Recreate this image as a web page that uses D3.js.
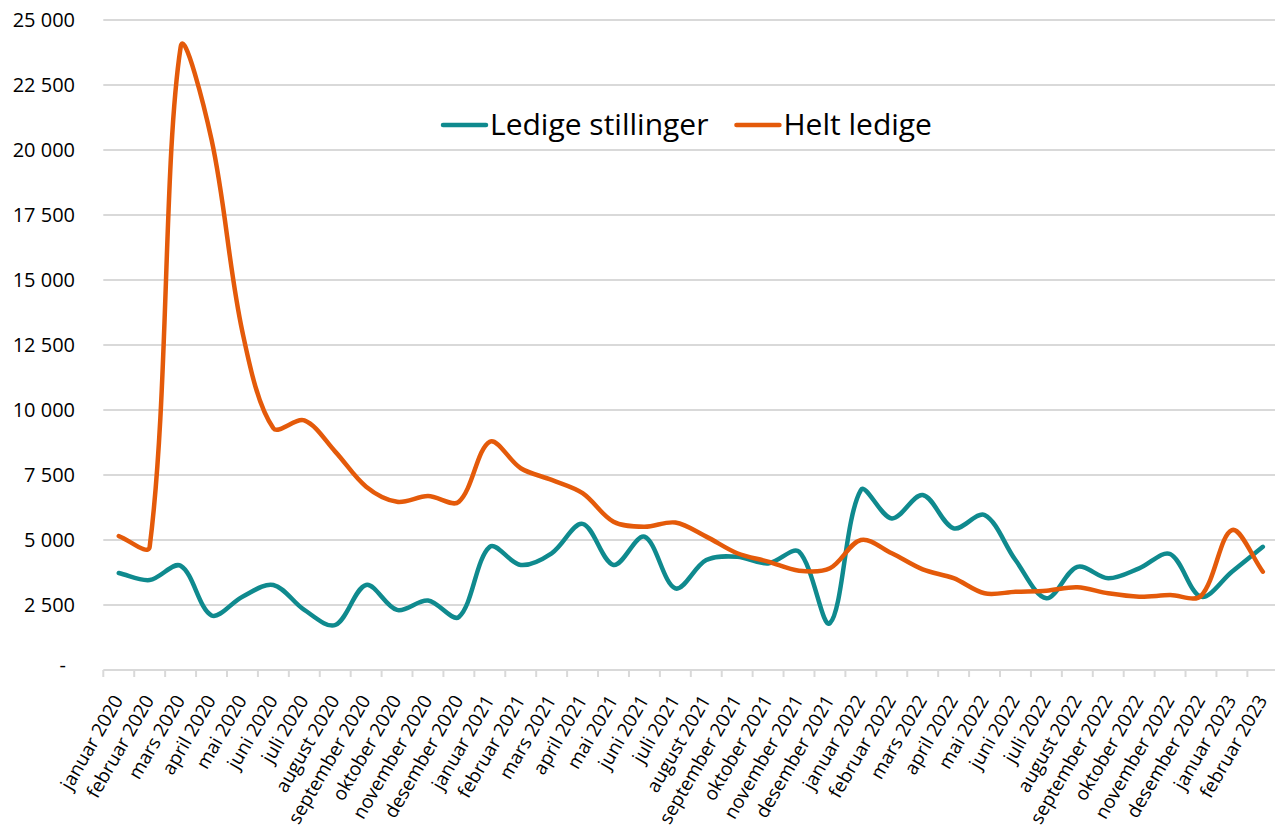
<!DOCTYPE html>
<meta charset="utf-8">
<style>
body { margin: 0; background: #fff; }
text { font-family: "Open Sans", Lato, sans-serif; fill: #000; }
.grid line { stroke: #d9d9d9; stroke-width: 2px; }
.line { fill: none; stroke-width: 4.5px; stroke-linecap: round; stroke-linejoin: round; }
</style>
<svg width="1275" height="832"></svg>
<script src="https://d3js.org/d3.v7.min.js"></script>
<script>

var months = ["januar 2020", "februar 2020", "mars 2020", "april 2020", "mai 2020", "juni 2020",
  "juli 2020", "august 2020", "september 2020", "oktober 2020", "november 2020", "desember 2020",
  "januar 2021", "februar 2021", "mars 2021", "april 2021", "mai 2021", "juni 2021",
  "juli 2021", "august 2021", "september 2021", "oktober 2021", "november 2021", "desember 2021",
  "januar 2022", "februar 2022", "mars 2022", "april 2022", "mai 2022", "juni 2022",
  "juli 2022", "august 2022", "september 2022", "oktober 2022", "november 2022", "desember 2022",
  "januar 2023", "februar 2023"];

var ledigeStillinger = [3730, 3460, 4010, 2100, 2820, 3270, 2310, 1730, 3270, 2310, 2670, 2040,
  4740, 4040, 4490, 5620, 4040, 5130, 3140, 4230, 4360, 4100, 4550, 1800,
  6920, 5830, 6730, 5450, 5960, 4230, 2760, 3970, 3530, 3910, 4460, 2820,
  3780, 4740];

var heltLedige = [5150, 4740, 23950, 20400, 13000, 9300, 9600, 8400, 7050, 6470, 6690, 6470,
  8780, 7760, 7310, 6800, 5700, 5510, 5670, 5130, 4490, 4170, 3820, 3910,
  5000, 4490, 3870, 3530, 2950, 3010, 3050, 3180, 2950, 2820, 2880, 2850,
  5380, 3780];

var yTicks = [0, 2500, 5000, 7500, 10000, 12500, 15000, 17500, 20000, 22500, 25000];

var series = [
  { name: "Ledige stillinger", values: ledigeStillinger, color: "#0f8a8e" },
  { name: "Helt ledige", values: heltLedige, color: "#e45a0a" }
];

var svg = d3.select("svg"),
    plotLeft = 103.3,
    plotRight = 1278.3,
    plotTop = 20,
    plotBottom = 670;

var x = d3.scaleBand()
    .domain(months)
    .range([plotLeft, plotRight])
    .padding(0);

var y = d3.scaleLinear()
    .domain([0, 25000])
    .range([plotBottom, plotTop]);

function fmt(v) {
  if (v === 0) return "-";
  return d3.format(",")(v).replace(/,/g, " ");
}

// smoothed curve like the spreadsheet one: tangents weighted by chord length
function SmoothCurve(context) { this._context = context; }
SmoothCurve.prototype = {
  areaStart: function() {},
  areaEnd: function() {},
  lineStart: function() { this._pts = []; },
  point: function(x, y) { this._pts.push([+x, +y]); },
  lineEnd: function() {
    var p = this._pts, n = p.length, ctx = this._context;
    if (!n) return;
    ctx.moveTo(p[0][0], p[0][1]);
    function dist(a, b) { return Math.hypot(b[0] - a[0], b[1] - a[1]); }
    for (var i = 0; i < n - 1; i++) {
      var p0 = p[i > 0 ? i - 1 : i], p1 = p[i], p2 = p[i + 1], p3 = p[i + 2 < n ? i + 2 : i + 1];
      var d01 = dist(p0, p1), d12 = dist(p1, p2), d23 = dist(p2, p3);
      var f1 = (d01 + d12) > 0 ? d12 / (d01 + d12) / 3 : 0;
      var f2 = (d12 + d23) > 0 ? d12 / (d12 + d23) / 3 : 0;
      ctx.bezierCurveTo(
        p1[0] + (p2[0] - p0[0]) * f1, p1[1] + (p2[1] - p0[1]) * f1,
        p2[0] - (p3[0] - p1[0]) * f2, p2[1] - (p3[1] - p1[1]) * f2,
        p2[0], p2[1]);
    }
  }
};
function smoothCurve(context) { return new SmoothCurve(context); }

// gridlines
svg.append("g")
    .attr("class", "grid")
  .selectAll("line")
  .data(yTicks)
  .enter().append("line")
    .attr("x1", plotLeft)
    .attr("x2", plotRight)
    .attr("y1", function(d) { return y(d); })
    .attr("y2", function(d) { return y(d); });

// y labels
svg.append("g")
  .selectAll("text")
  .data(yTicks)
  .enter().append("text")
    .attr("x", function(d) { return d === 0 ? 66 : 75; })
    .attr("y", function(d) { return y(d) + (d === 0 ? 2 : 7); })
    .attr("text-anchor", "end")
    .style("font-size", "20px")
    .text(fmt);

// x tick marks
var edges = months.map(function(m) { return x(m); }).concat([plotRight]);
svg.append("g")
  .selectAll("line")
  .data(edges)
  .enter().append("line")
    .attr("x1", function(d) { return d; })
    .attr("x2", function(d) { return d; })
    .attr("y1", plotBottom)
    .attr("y2", plotBottom + 7)
    .attr("stroke", "#d9d9d9")
    .attr("stroke-width", 2);

// x labels
svg.append("g")
  .selectAll("text")
  .data(months)
  .enter().append("text")
    .attr("transform", function(d) {
      return "translate(" + (x(d) + x.bandwidth() / 2 + 5) + "," + (plotBottom + 30) + ") rotate(-60)";
    })
    .attr("text-anchor", "end")
    .style("font-size", "19px")
    .text(function(d) { return d; });

// lines
var line = d3.line()
    .x(function(d, i) { return x(months[i]) + x.bandwidth() / 2; })
    .y(function(d) { return y(d); })
    .curve(smoothCurve);

svg.append("g")
  .selectAll("path")
  .data(series)
  .enter().append("path")
    .attr("class", "line")
    .attr("stroke", function(d) { return d.color; })
    .attr("d", function(d) { return line(d.values); });

// legend
var legend = svg.append("g")
    .attr("transform", "translate(443,125)");

var lx = 0;
series.forEach(function(s) {
  var g = legend.append("g").attr("transform", "translate(" + lx + ",0)");
  g.append("line")
      .attr("x1", 0)
      .attr("x2", 43)
      .attr("stroke", s.color)
      .attr("stroke-width", 4.5)
      .attr("stroke-linecap", "round");
  var t = g.append("text")
      .attr("x", 47)
      .attr("y", 10)
      .style("font-size", "30px")
      .text(s.name);
  lx += 47 + t.node().getComputedTextLength() + 28;
});

</script>
